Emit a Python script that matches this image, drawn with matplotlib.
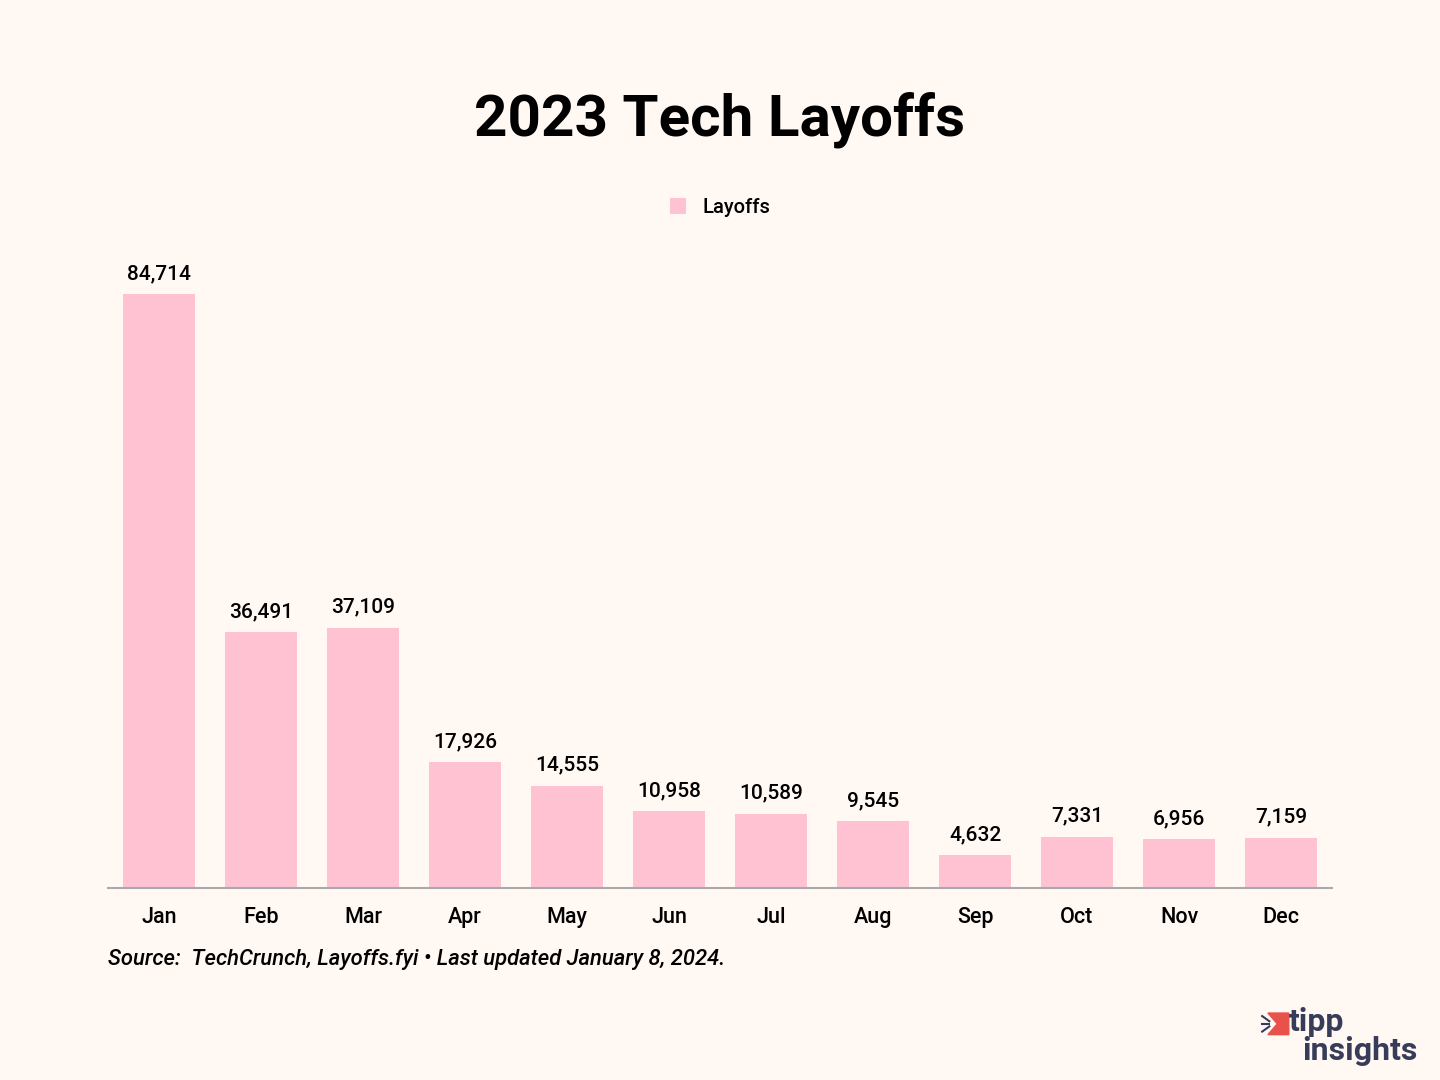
import matplotlib.pyplot as plt
from matplotlib.patches import Polygon

months = ["Jan", "Feb", "Mar", "Apr", "May", "Jun",
          "Jul", "Aug", "Sep", "Oct", "Nov", "Dec"]
layoffs = [84714, 36491, 37109, 17926, 14555, 10958,
           10589, 9545, 4632, 7331, 6956, 7159]

bg = "#FFF8F3"
pink = "#FFC2D3"
plt.rcParams['font.family'] = ['Roboto', 'DejaVu Sans']

fig = plt.figure(figsize=(14.4, 10.8), dpi=100, facecolor=bg)
ax = fig.add_axes([0.075, 0.1778, 0.85, 0.5843])
ax.set_facecolor(bg)

x = range(len(months))
bars = ax.bar(x, layoffs, width=0.706, color=pink, label="Layoffs", zorder=2)
for xi, v in zip(x, layoffs):
    ax.annotate(f"{v:,}", (xi, v), xytext=(0, 8), textcoords="offset points",
                ha="center", va="bottom", fontsize=15, fontweight="medium")

ax.set_xlim(-0.5, 11.5)
ax.set_ylim(0, 90000)
ax.set_xticks(list(x))
ax.set_xticklabels(months, fontsize=15.5, fontweight="medium")
ax.tick_params(axis="x", length=0, pad=14)
ax.set_yticks([])
for s in ["top", "right", "left"]:
    ax.spines[s].set_visible(False)
ax.spines["bottom"].set_color("#AAAAAA")
ax.spines["bottom"].set_linewidth(1.5)

fig.text(0.5, 0.889, "2023 Tech Layoffs", ha="center", va="center",
         fontsize=42, fontweight="bold")
fig.legend(handles=[bars], loc="center", bbox_to_anchor=(0.5, 0.808),
           frameon=False, handlelength=0.8, handleheight=0.8,
           handletextpad=0.8, prop={"weight": "medium", "size": 14.5})
fig.text(0.075, 0.112, "Source:  TechCrunch, Layoffs.fyi \u2022 Last updated January 8, 2024.",
         ha="left", va="center", fontsize=15.8, style="italic", fontweight="medium")

# logo
navy = "#373C58"
fig.text(0.895, 0.054, "tipp", ha="left", va="center", fontsize=23,
         fontweight="bold", color=navy)
fig.text(0.904, 0.027, "insights", ha="left", va="center", fontsize=23,
         fontweight="bold", color=navy)
logo = Polygon([[0.8805, 0.062], [0.895, 0.062], [0.895, 0.042], [0.8805, 0.042],
                [0.887, 0.052]], closed=True, transform=fig.transFigure,
               color="#E8524A")
fig.patches.append(logo)
for dy in (-0.006, 0.0, 0.006):
    fig.lines.append(plt.Line2D([0.8765, 0.8815], [0.052 + dy * 1.2, 0.052 + dy * 0.4],
                                transform=fig.transFigure, color=navy, lw=1.5))

fig.savefig("out.png", dpi=100, facecolor=bg)
